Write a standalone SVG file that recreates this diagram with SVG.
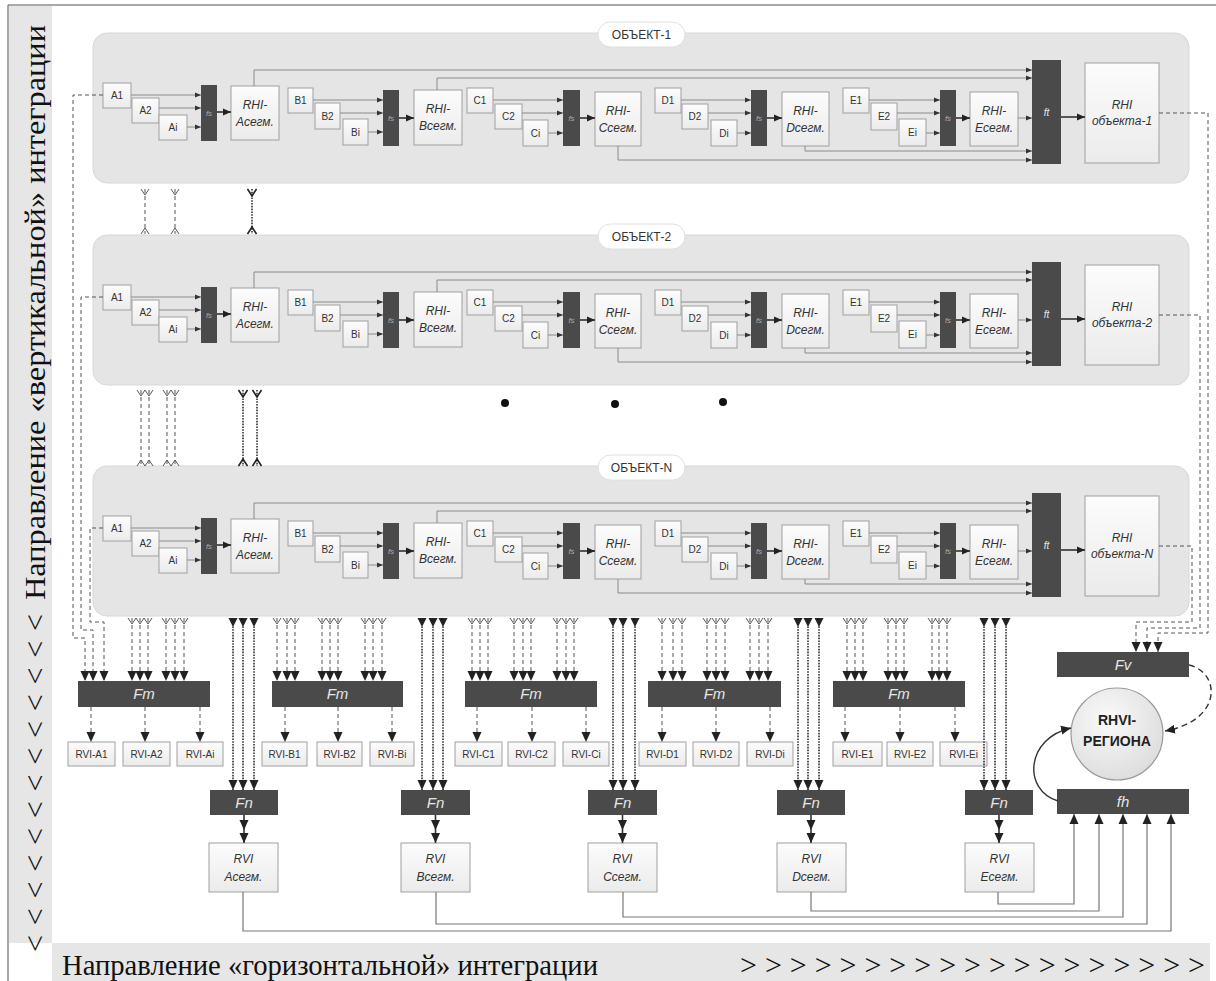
<svg xmlns="http://www.w3.org/2000/svg" width="1216" height="981" viewBox="0 0 1216 981">
<style>
.frame{fill:none;stroke:#555;stroke-width:1}
.strip{fill:#e6e6e6}
.panel{fill:#e5e5e5;stroke:#d8d8d8;stroke-width:1}
.pill{fill:#fff;stroke:#e0e0e0;stroke-width:1}
.box{fill:url(#gb);stroke:#a0a0a0;stroke-width:1}
.dk{fill:#4a4a4a}
.t{font-family:"Liberation Sans",Arial,sans-serif;text-anchor:middle;fill:#333}
.s10{font-size:10px}
.s12{font-size:12px}
.i12{font-size:12px;font-style:italic}
.fsT{font-size:8px;font-style:italic;fill:#aaa}
.wT{font-size:15px;font-style:italic;fill:#e6e6e6}
.bT{font-size:14px;font-weight:bold;fill:#222}
.ln{fill:none;stroke:#8a8a8a;stroke-width:1}
.ln2{fill:none;stroke:#333;stroke-width:1.6}
.lnb{fill:none;stroke:#777;stroke-width:1.2}
.ds{fill:none;stroke:#555;stroke-width:1;stroke-dasharray:4 3}
.dt{fill:none;stroke:#333;stroke-width:1.6;stroke-dasharray:1.6 1.2}
.serif{font-family:"Liberation Serif","Times New Roman",serif;fill:#111;font-size:30px}
</style>
<defs>
<linearGradient id="gb" x1="0" y1="0" x2="0" y2="1"><stop offset="0" stop-color="#fcfcfc"/><stop offset="1" stop-color="#ebebeb"/></linearGradient>
<radialGradient id="gc" cx="0.4" cy="0.35" r="0.7"><stop offset="0" stop-color="#fafafa"/><stop offset="1" stop-color="#dcdcdc"/></radialGradient>
<marker id="ahS" markerUnits="userSpaceOnUse" viewBox="-6 -3 6 6" refX="0" refY="0" markerWidth="6" markerHeight="6" orient="auto"><path d="M-6,-2.5L0,0L-6,2.5z" fill="#333"/></marker>
<marker id="ahL" markerUnits="userSpaceOnUse" viewBox="-8 -4 8 8" refX="0" refY="0" markerWidth="8" markerHeight="8" orient="auto"><path d="M-8,-3.5L0,0L-8,3.5z" fill="#222"/></marker>
<marker id="ahM" markerUnits="userSpaceOnUse" viewBox="-10 -5 10 10" refX="0" refY="0" markerWidth="10" markerHeight="10" orient="auto"><path d="M-10,-4.5L0,0L-10,4.5z" fill="#222"/></marker>
<marker id="ahSt" markerUnits="userSpaceOnUse" viewBox="0 -5 10 10" refX="0" refY="0" markerWidth="10" markerHeight="10" orient="auto"><path d="M0,-4.5L9,0L0,4.5z" fill="#222"/></marker>
<marker id="forkS" markerUnits="userSpaceOnUse" viewBox="-1 -5 9 10" refX="0" refY="0" markerWidth="9" markerHeight="10" orient="auto"><path d="M0,-4L6,0L0,4" fill="none" stroke="#555" stroke-width="1"/></marker>
<marker id="forkE" markerUnits="userSpaceOnUse" viewBox="-8 -5 9 10" refX="0" refY="0" markerWidth="9" markerHeight="10" orient="auto"><path d="M0,-4L-6,0L0,4" fill="none" stroke="#555" stroke-width="1"/></marker>
<marker id="forkSD" markerUnits="userSpaceOnUse" viewBox="-1 -5 9 10" refX="0" refY="0" markerWidth="9" markerHeight="10" orient="auto"><path d="M0,-4.5L7,0L0,4.5" fill="none" stroke="#222" stroke-width="1.6"/></marker>
<marker id="forkED" markerUnits="userSpaceOnUse" viewBox="-8 -5 9 10" refX="0" refY="0" markerWidth="9" markerHeight="10" orient="auto"><path d="M0,-4.5L-7,0L0,4.5" fill="none" stroke="#222" stroke-width="1.6"/></marker>
</defs>

<g id="background">
<rect class="strip" x="9" y="6" width="43" height="937"/>
<rect class="strip" x="52" y="943" width="1158" height="38"/>
<path class="frame" d="M8,981V5H1216"/>
<text class="serif" transform="translate(45,600) rotate(-90)" textLength="575" lengthAdjust="spacingAndGlyphs">Направление «вертикальной» интеграции</text>
<text class="serif" transform="translate(45,952) rotate(-90)" textLength="338" lengthAdjust="spacing">&lt;&lt;&lt;&lt;&lt;&lt;&lt;&lt;&lt;&lt;&lt;&lt;&lt;</text>
<text class="serif" x="62" y="975" textLength="536" lengthAdjust="spacingAndGlyphs">Направление «горизонтальной» интеграции</text>
<text class="serif" x="740" y="975" textLength="465" lengthAdjust="spacing">&gt;&gt;&gt;&gt;&gt;&gt;&gt;&gt;&gt;&gt;&gt;&gt;&gt;&gt;&gt;&gt;&gt;&gt;&gt;</text>
</g>

<g id="object-1">
<g id="o1-panel"><rect class="panel" x="93" y="33" width="1096" height="150" rx="14"/><rect class="pill" x="598" y="22" width="87" height="25" rx="12.5"/><text class="t s12" x="641.5" y="39">ОБЪЕКТ-1</text></g>
<g id="o1-A1"><rect class="box" x="103" y="83" width="28" height="25"/><text class="t s10" x="117" y="99">A1</text></g>
<g id="o1-A2"><rect class="box" x="132" y="98" width="27" height="25"/><text class="t s10" x="145.5" y="114">A2</text></g>
<g id="o1-Ai"><rect class="box" x="159" y="115" width="28" height="25"/><text class="t s10" x="173" y="131">Ai</text></g>
<g id="o1-fsA"><rect class="dk" x="201" y="85" width="16" height="56"/><text class="t fsT" x="209" y="116">fs</text></g>
<g id="o1-RHIA"><rect class="box" x="231" y="86" width="48" height="54"/><text class="t i12" x="255" y="109">RHI-</text><text class="t i12" x="255" y="126">Асегм.</text></g>
<g id="o1-B1"><rect class="box" x="288" y="88" width="25" height="25"/><text class="t s10" x="300.5" y="104">B1</text></g>
<g id="o1-B2"><rect class="box" x="315" y="103" width="25" height="26"/><text class="t s10" x="327.5" y="120">B2</text></g>
<g id="o1-Bi"><rect class="box" x="343" y="119" width="25" height="26"/><text class="t s10" x="355.5" y="136">Bi</text></g>
<g id="o1-fsB"><rect class="dk" x="383" y="90" width="16" height="56"/><text class="t fsT" x="391" y="121">fs</text></g>
<g id="o1-RHIB"><rect class="box" x="414" y="90" width="48" height="55"/><text class="t i12" x="438" y="113">RHI-</text><text class="t i12" x="438" y="130">Всегм.</text></g>
<g id="o1-C1"><rect class="box" x="467" y="88" width="26" height="25"/><text class="t s10" x="480" y="104">C1</text></g>
<g id="o1-C2"><rect class="box" x="495" y="104" width="27" height="25"/><text class="t s10" x="508.5" y="120">C2</text></g>
<g id="o1-Ci"><rect class="box" x="523" y="120" width="25" height="26"/><text class="t s10" x="535.5" y="137">Ci</text></g>
<g id="o1-fsC"><rect class="dk" x="563" y="90" width="17" height="56"/><text class="t fsT" x="571.5" y="121">fs</text></g>
<g id="o1-RHIC"><rect class="box" x="595" y="92" width="46" height="54"/><text class="t i12" x="618" y="115">RHI-</text><text class="t i12" x="618" y="132">Ссегм.</text></g>
<g id="o1-D1"><rect class="box" x="655" y="88" width="26" height="25"/><text class="t s10" x="668" y="104">D1</text></g>
<g id="o1-D2"><rect class="box" x="682" y="104" width="26" height="25"/><text class="t s10" x="695" y="120">D2</text></g>
<g id="o1-Di"><rect class="box" x="711" y="120" width="26" height="26"/><text class="t s10" x="724" y="137">Di</text></g>
<g id="o1-fsD"><rect class="dk" x="751" y="90" width="16" height="56"/><text class="t fsT" x="759" y="121">fs</text></g>
<g id="o1-RHID"><rect class="box" x="782" y="92" width="47" height="54"/><text class="t i12" x="805.5" y="115">RHI-</text><text class="t i12" x="805.5" y="132">Dсегм.</text></g>
<g id="o1-E1"><rect class="box" x="843" y="88" width="26" height="25"/><text class="t s10" x="856" y="104">E1</text></g>
<g id="o1-E2"><rect class="box" x="871" y="103" width="26" height="27"/><text class="t s10" x="884" y="120">E2</text></g>
<g id="o1-Ei"><rect class="box" x="899" y="119" width="27" height="27"/><text class="t s10" x="912.5" y="136">Ei</text></g>
<g id="o1-fsE"><rect class="dk" x="940" y="90" width="16" height="56"/><text class="t fsT" x="948" y="121">fs</text></g>
<g id="o1-RHIE"><rect class="box" x="970" y="92" width="48" height="54"/><text class="t i12" x="994" y="115">RHI-</text><text class="t i12" x="994" y="132">Eсегм.</text></g>
<g id="o1-ft"><rect class="dk" x="1032" y="60" width="29" height="104"/><text class="t s10" style="font-style:italic;fill:#e6e6e6" x="1046.5" y="116">ft</text></g>
<g id="o1-RHIobj"><rect class="box" x="1085" y="63" width="74" height="100"/><text class="t i12" x="1122" y="109">RHI</text><text class="t i12" x="1122" y="125">объекта-1</text></g>
</g>

<g id="object-2" transform="translate(0,202)">
<g id="o2-panel"><rect class="panel" x="93" y="33" width="1096" height="150" rx="14"/><rect class="pill" x="598" y="22" width="87" height="25" rx="12.5"/><text class="t s12" x="641.5" y="39">ОБЪЕКТ-2</text></g>
<g id="o2-A1"><rect class="box" x="103" y="83" width="28" height="25"/><text class="t s10" x="117" y="99">A1</text></g>
<g id="o2-A2"><rect class="box" x="132" y="98" width="27" height="25"/><text class="t s10" x="145.5" y="114">A2</text></g>
<g id="o2-Ai"><rect class="box" x="159" y="115" width="28" height="25"/><text class="t s10" x="173" y="131">Ai</text></g>
<g id="o2-fsA"><rect class="dk" x="201" y="85" width="16" height="56"/><text class="t fsT" x="209" y="116">fs</text></g>
<g id="o2-RHIA"><rect class="box" x="231" y="86" width="48" height="54"/><text class="t i12" x="255" y="109">RHI-</text><text class="t i12" x="255" y="126">Асегм.</text></g>
<g id="o2-B1"><rect class="box" x="288" y="88" width="25" height="25"/><text class="t s10" x="300.5" y="104">B1</text></g>
<g id="o2-B2"><rect class="box" x="315" y="103" width="25" height="26"/><text class="t s10" x="327.5" y="120">B2</text></g>
<g id="o2-Bi"><rect class="box" x="343" y="119" width="25" height="26"/><text class="t s10" x="355.5" y="136">Bi</text></g>
<g id="o2-fsB"><rect class="dk" x="383" y="90" width="16" height="56"/><text class="t fsT" x="391" y="121">fs</text></g>
<g id="o2-RHIB"><rect class="box" x="414" y="90" width="48" height="55"/><text class="t i12" x="438" y="113">RHI-</text><text class="t i12" x="438" y="130">Всегм.</text></g>
<g id="o2-C1"><rect class="box" x="467" y="88" width="26" height="25"/><text class="t s10" x="480" y="104">C1</text></g>
<g id="o2-C2"><rect class="box" x="495" y="104" width="27" height="25"/><text class="t s10" x="508.5" y="120">C2</text></g>
<g id="o2-Ci"><rect class="box" x="523" y="120" width="25" height="26"/><text class="t s10" x="535.5" y="137">Ci</text></g>
<g id="o2-fsC"><rect class="dk" x="563" y="90" width="17" height="56"/><text class="t fsT" x="571.5" y="121">fs</text></g>
<g id="o2-RHIC"><rect class="box" x="595" y="92" width="46" height="54"/><text class="t i12" x="618" y="115">RHI-</text><text class="t i12" x="618" y="132">Ссегм.</text></g>
<g id="o2-D1"><rect class="box" x="655" y="88" width="26" height="25"/><text class="t s10" x="668" y="104">D1</text></g>
<g id="o2-D2"><rect class="box" x="682" y="104" width="26" height="25"/><text class="t s10" x="695" y="120">D2</text></g>
<g id="o2-Di"><rect class="box" x="711" y="120" width="26" height="26"/><text class="t s10" x="724" y="137">Di</text></g>
<g id="o2-fsD"><rect class="dk" x="751" y="90" width="16" height="56"/><text class="t fsT" x="759" y="121">fs</text></g>
<g id="o2-RHID"><rect class="box" x="782" y="92" width="47" height="54"/><text class="t i12" x="805.5" y="115">RHI-</text><text class="t i12" x="805.5" y="132">Dсегм.</text></g>
<g id="o2-E1"><rect class="box" x="843" y="88" width="26" height="25"/><text class="t s10" x="856" y="104">E1</text></g>
<g id="o2-E2"><rect class="box" x="871" y="103" width="26" height="27"/><text class="t s10" x="884" y="120">E2</text></g>
<g id="o2-Ei"><rect class="box" x="899" y="119" width="27" height="27"/><text class="t s10" x="912.5" y="136">Ei</text></g>
<g id="o2-fsE"><rect class="dk" x="940" y="90" width="16" height="56"/><text class="t fsT" x="948" y="121">fs</text></g>
<g id="o2-RHIE"><rect class="box" x="970" y="92" width="48" height="54"/><text class="t i12" x="994" y="115">RHI-</text><text class="t i12" x="994" y="132">Eсегм.</text></g>
<g id="o2-ft"><rect class="dk" x="1032" y="60" width="29" height="104"/><text class="t s10" style="font-style:italic;fill:#e6e6e6" x="1046.5" y="116">ft</text></g>
<g id="o2-RHIobj"><rect class="box" x="1085" y="63" width="74" height="100"/><text class="t i12" x="1122" y="109">RHI</text><text class="t i12" x="1122" y="125">объекта-2</text></g>
</g>

<g id="object-N" transform="translate(0,433)">
<g id="oN-panel"><rect class="panel" x="93" y="33" width="1096" height="150" rx="14"/><rect class="pill" x="598" y="22" width="87" height="25" rx="12.5"/><text class="t s12" x="641.5" y="39">ОБЪЕКТ-N</text></g>
<g id="oN-A1"><rect class="box" x="103" y="83" width="28" height="25"/><text class="t s10" x="117" y="99">A1</text></g>
<g id="oN-A2"><rect class="box" x="132" y="98" width="27" height="25"/><text class="t s10" x="145.5" y="114">A2</text></g>
<g id="oN-Ai"><rect class="box" x="159" y="115" width="28" height="25"/><text class="t s10" x="173" y="131">Ai</text></g>
<g id="oN-fsA"><rect class="dk" x="201" y="85" width="16" height="56"/><text class="t fsT" x="209" y="116">fs</text></g>
<g id="oN-RHIA"><rect class="box" x="231" y="86" width="48" height="54"/><text class="t i12" x="255" y="109">RHI-</text><text class="t i12" x="255" y="126">Асегм.</text></g>
<g id="oN-B1"><rect class="box" x="288" y="88" width="25" height="25"/><text class="t s10" x="300.5" y="104">B1</text></g>
<g id="oN-B2"><rect class="box" x="315" y="103" width="25" height="26"/><text class="t s10" x="327.5" y="120">B2</text></g>
<g id="oN-Bi"><rect class="box" x="343" y="119" width="25" height="26"/><text class="t s10" x="355.5" y="136">Bi</text></g>
<g id="oN-fsB"><rect class="dk" x="383" y="90" width="16" height="56"/><text class="t fsT" x="391" y="121">fs</text></g>
<g id="oN-RHIB"><rect class="box" x="414" y="90" width="48" height="55"/><text class="t i12" x="438" y="113">RHI-</text><text class="t i12" x="438" y="130">Всегм.</text></g>
<g id="oN-C1"><rect class="box" x="467" y="88" width="26" height="25"/><text class="t s10" x="480" y="104">C1</text></g>
<g id="oN-C2"><rect class="box" x="495" y="104" width="27" height="25"/><text class="t s10" x="508.5" y="120">C2</text></g>
<g id="oN-Ci"><rect class="box" x="523" y="120" width="25" height="26"/><text class="t s10" x="535.5" y="137">Ci</text></g>
<g id="oN-fsC"><rect class="dk" x="563" y="90" width="17" height="56"/><text class="t fsT" x="571.5" y="121">fs</text></g>
<g id="oN-RHIC"><rect class="box" x="595" y="92" width="46" height="54"/><text class="t i12" x="618" y="115">RHI-</text><text class="t i12" x="618" y="132">Ссегм.</text></g>
<g id="oN-D1"><rect class="box" x="655" y="88" width="26" height="25"/><text class="t s10" x="668" y="104">D1</text></g>
<g id="oN-D2"><rect class="box" x="682" y="104" width="26" height="25"/><text class="t s10" x="695" y="120">D2</text></g>
<g id="oN-Di"><rect class="box" x="711" y="120" width="26" height="26"/><text class="t s10" x="724" y="137">Di</text></g>
<g id="oN-fsD"><rect class="dk" x="751" y="90" width="16" height="56"/><text class="t fsT" x="759" y="121">fs</text></g>
<g id="oN-RHID"><rect class="box" x="782" y="92" width="47" height="54"/><text class="t i12" x="805.5" y="115">RHI-</text><text class="t i12" x="805.5" y="132">Dсегм.</text></g>
<g id="oN-E1"><rect class="box" x="843" y="88" width="26" height="25"/><text class="t s10" x="856" y="104">E1</text></g>
<g id="oN-E2"><rect class="box" x="871" y="103" width="26" height="27"/><text class="t s10" x="884" y="120">E2</text></g>
<g id="oN-Ei"><rect class="box" x="899" y="119" width="27" height="27"/><text class="t s10" x="912.5" y="136">Ei</text></g>
<g id="oN-fsE"><rect class="dk" x="940" y="90" width="16" height="56"/><text class="t fsT" x="948" y="121">fs</text></g>
<g id="oN-RHIE"><rect class="box" x="970" y="92" width="48" height="54"/><text class="t i12" x="994" y="115">RHI-</text><text class="t i12" x="994" y="132">Eсегм.</text></g>
<g id="oN-ft"><rect class="dk" x="1032" y="60" width="29" height="104"/><text class="t s10" style="font-style:italic;fill:#e6e6e6" x="1046.5" y="116">ft</text></g>
<g id="oN-RHIobj"><rect class="box" x="1085" y="63" width="74" height="100"/><text class="t i12" x="1122" y="109">RHI</text><text class="t i12" x="1122" y="125">объекта-N</text></g>
</g>

<g id="dots" fill="#111"><circle cx="505" cy="403" r="4"/><circle cx="615" cy="404" r="4"/><circle cx="723" cy="402" r="4"/></g>

<g id="Fm-nodes">
<g id="FmA"><rect class="dk" x="78" y="681" width="132" height="26"/><text class="t wT" x="144" y="699">Fm</text></g>
<g id="FmB"><rect class="dk" x="272" y="681" width="131" height="26"/><text class="t wT" x="337.5" y="699">Fm</text></g>
<g id="FmC"><rect class="dk" x="465" y="681" width="132" height="26"/><text class="t wT" x="531" y="699">Fm</text></g>
<g id="FmD"><rect class="dk" x="648" y="681" width="133" height="26"/><text class="t wT" x="714.5" y="699">Fm</text></g>
<g id="FmE"><rect class="dk" x="833" y="681" width="132" height="26"/><text class="t wT" x="899" y="699">Fm</text></g>
</g>

<g id="RVI-nodes">
<g id="RVI-A1"><rect class="box" x="68" y="742" width="47" height="24"/><text class="t s10" x="91.5" y="758">RVI-A1</text></g>
<g id="RVI-A2"><rect class="box" x="123" y="742" width="47" height="24"/><text class="t s10" x="146.5" y="758">RVI-A2</text></g>
<g id="RVI-Ai"><rect class="box" x="177" y="742" width="46" height="24"/><text class="t s10" x="200" y="758">RVI-Ai</text></g>
<g id="RVI-B1"><rect class="box" x="262" y="742" width="45" height="24"/><text class="t s10" x="284.5" y="758">RVI-B1</text></g>
<g id="RVI-B2"><rect class="box" x="317" y="742" width="45" height="24"/><text class="t s10" x="339.5" y="758">RVI-B2</text></g>
<g id="RVI-Bi"><rect class="box" x="370" y="742" width="44" height="24"/><text class="t s10" x="392" y="758">RVI-Bi</text></g>
<g id="RVI-C1"><rect class="box" x="455" y="742" width="47" height="24"/><text class="t s10" x="478.5" y="758">RVI-C1</text></g>
<g id="RVI-C2"><rect class="box" x="508" y="742" width="47" height="24"/><text class="t s10" x="531.5" y="758">RVI-C2</text></g>
<g id="RVI-Ci"><rect class="box" x="563" y="742" width="46" height="24"/><text class="t s10" x="586" y="758">RVI-Ci</text></g>
<g id="RVI-D1"><rect class="box" x="639" y="742" width="47" height="24"/><text class="t s10" x="662.5" y="758">RVI-D1</text></g>
<g id="RVI-D2"><rect class="box" x="693" y="742" width="46" height="24"/><text class="t s10" x="716" y="758">RVI-D2</text></g>
<g id="RVI-Di"><rect class="box" x="747" y="742" width="46" height="24"/><text class="t s10" x="770" y="758">RVI-Di</text></g>
<g id="RVI-E1"><rect class="box" x="833" y="742" width="49" height="24"/><text class="t s10" x="857.5" y="758">RVI-E1</text></g>
<g id="RVI-E2"><rect class="box" x="887" y="742" width="46" height="24"/><text class="t s10" x="910" y="758">RVI-E2</text></g>
<g id="RVI-Ei"><rect class="box" x="940" y="742" width="47" height="24"/><text class="t s10" x="963.5" y="758">RVI-Ei</text></g>
</g>

<g id="Fn-nodes">
<g id="FnA"><rect class="dk" x="210" y="790" width="68" height="25"/><text class="t wT" x="244" y="808">Fn</text></g>
<g id="FnB"><rect class="dk" x="401" y="790" width="69" height="25"/><text class="t wT" x="435.5" y="808">Fn</text></g>
<g id="FnC"><rect class="dk" x="588" y="790" width="69" height="25"/><text class="t wT" x="622.5" y="808">Fn</text></g>
<g id="FnD"><rect class="dk" x="777" y="790" width="68" height="25"/><text class="t wT" x="811" y="808">Fn</text></g>
<g id="FnE"><rect class="dk" x="965" y="790" width="68" height="25"/><text class="t wT" x="999" y="808">Fn</text></g>
</g>

<g id="RVIseg-nodes">
<g id="RVI-Aseg"><rect class="box" x="209" y="843" width="69" height="49"/><text class="t i12" x="243.5" y="863">RVI</text><text class="t i12" x="243.5" y="881">Асегм.</text></g>
<g id="RVI-Bseg"><rect class="box" x="401" y="843" width="69" height="49"/><text class="t i12" x="435.5" y="863">RVI</text><text class="t i12" x="435.5" y="881">Всегм.</text></g>
<g id="RVI-Cseg"><rect class="box" x="588" y="843" width="69" height="49"/><text class="t i12" x="622.5" y="863">RVI</text><text class="t i12" x="622.5" y="881">Ссегм.</text></g>
<g id="RVI-Dseg"><rect class="box" x="777" y="843" width="69" height="49"/><text class="t i12" x="811.5" y="863">RVI</text><text class="t i12" x="811.5" y="881">Dсегм.</text></g>
<g id="RVI-Eseg"><rect class="box" x="965" y="843" width="69" height="49"/><text class="t i12" x="999.5" y="863">RVI</text><text class="t i12" x="999.5" y="881">Eсегм.</text></g>
</g>

<g id="Fv"><rect class="dk" x="1057" y="652" width="132" height="25"/><text class="t wT" x="1123" y="670">Fv</text></g>
<g id="fh"><rect class="dk" x="1057" y="789" width="132" height="25"/><text class="t wT" x="1123" y="807">fh</text></g>
<g id="RHVI-region"><circle cx="1117" cy="734" r="46" fill="url(#gc)" stroke="#9a9a9a" stroke-width="1.2"/><text class="t bT" x="1117" y="725">RHVI-</text><text class="t bT" x="1117" y="746">РЕГИОНА</text></g>

<g id="connectors">
<g id="inner-1">
<path class="ln" marker-end="url(#ahS)" d="M131,95H201"/><path class="ln" marker-end="url(#ahS)" d="M159,108H201"/><path class="ln" marker-end="url(#ahS)" d="M187,127H201"/>
<path class="ln" marker-end="url(#ahS)" d="M313,100H383"/><path class="ln" marker-end="url(#ahS)" d="M340,113H383"/><path class="ln" marker-end="url(#ahS)" d="M368,132H383"/>
<path class="ln" marker-end="url(#ahS)" d="M493,100H563"/><path class="ln" marker-end="url(#ahS)" d="M522,113H563"/><path class="ln" marker-end="url(#ahS)" d="M548,133H563"/>
<path class="ln" marker-end="url(#ahS)" d="M681,100H751"/><path class="ln" marker-end="url(#ahS)" d="M708,113H751"/><path class="ln" marker-end="url(#ahS)" d="M737,133H751"/>
<path class="ln" marker-end="url(#ahS)" d="M869,100H940"/><path class="ln" marker-end="url(#ahS)" d="M897,113H940"/><path class="ln" marker-end="url(#ahS)" d="M926,133H940"/>
<path class="ln" marker-end="url(#ahS)" d="M254,86V70H1032"/>
<path class="ln" marker-end="url(#ahS)" d="M437,90V78H1032"/>
<path class="ln" marker-end="url(#ahS)" d="M618,146V160H1032"/>
<path class="ln" marker-end="url(#ahS)" d="M805,146V151H1032"/>
<path class="ln" marker-end="url(#ahS)" d="M1018,118H1032"/>
<path class="ln2" marker-end="url(#ahL)" d="M217,112H231"/>
<path class="ln2" marker-end="url(#ahL)" d="M399,118H414"/>
<path class="ln2" marker-end="url(#ahL)" d="M580,118H595"/>
<path class="ln2" marker-end="url(#ahL)" d="M767,118H782"/>
<path class="ln2" marker-end="url(#ahL)" d="M956,118H970"/>
<path class="ln2" marker-end="url(#ahL)" d="M1061,117H1085"/>
</g>
<g id="inner-2" transform="translate(0,202)">
<path class="ln" marker-end="url(#ahS)" d="M131,95H201"/><path class="ln" marker-end="url(#ahS)" d="M159,108H201"/><path class="ln" marker-end="url(#ahS)" d="M187,127H201"/>
<path class="ln" marker-end="url(#ahS)" d="M313,100H383"/><path class="ln" marker-end="url(#ahS)" d="M340,113H383"/><path class="ln" marker-end="url(#ahS)" d="M368,132H383"/>
<path class="ln" marker-end="url(#ahS)" d="M493,100H563"/><path class="ln" marker-end="url(#ahS)" d="M522,113H563"/><path class="ln" marker-end="url(#ahS)" d="M548,133H563"/>
<path class="ln" marker-end="url(#ahS)" d="M681,100H751"/><path class="ln" marker-end="url(#ahS)" d="M708,113H751"/><path class="ln" marker-end="url(#ahS)" d="M737,133H751"/>
<path class="ln" marker-end="url(#ahS)" d="M869,100H940"/><path class="ln" marker-end="url(#ahS)" d="M897,113H940"/><path class="ln" marker-end="url(#ahS)" d="M926,133H940"/>
<path class="ln" marker-end="url(#ahS)" d="M254,86V70H1032"/>
<path class="ln" marker-end="url(#ahS)" d="M437,90V78H1032"/>
<path class="ln" marker-end="url(#ahS)" d="M618,146V160H1032"/>
<path class="ln" marker-end="url(#ahS)" d="M805,146V151H1032"/>
<path class="ln" marker-end="url(#ahS)" d="M1018,118H1032"/>
<path class="ln2" marker-end="url(#ahL)" d="M217,112H231"/>
<path class="ln2" marker-end="url(#ahL)" d="M399,118H414"/>
<path class="ln2" marker-end="url(#ahL)" d="M580,118H595"/>
<path class="ln2" marker-end="url(#ahL)" d="M767,118H782"/>
<path class="ln2" marker-end="url(#ahL)" d="M956,118H970"/>
<path class="ln2" marker-end="url(#ahL)" d="M1061,117H1085"/>
</g>
<g id="inner-N" transform="translate(0,433)">
<path class="ln" marker-end="url(#ahS)" d="M131,95H201"/><path class="ln" marker-end="url(#ahS)" d="M159,108H201"/><path class="ln" marker-end="url(#ahS)" d="M187,127H201"/>
<path class="ln" marker-end="url(#ahS)" d="M313,100H383"/><path class="ln" marker-end="url(#ahS)" d="M340,113H383"/><path class="ln" marker-end="url(#ahS)" d="M368,132H383"/>
<path class="ln" marker-end="url(#ahS)" d="M493,100H563"/><path class="ln" marker-end="url(#ahS)" d="M522,113H563"/><path class="ln" marker-end="url(#ahS)" d="M548,133H563"/>
<path class="ln" marker-end="url(#ahS)" d="M681,100H751"/><path class="ln" marker-end="url(#ahS)" d="M708,113H751"/><path class="ln" marker-end="url(#ahS)" d="M737,133H751"/>
<path class="ln" marker-end="url(#ahS)" d="M869,100H940"/><path class="ln" marker-end="url(#ahS)" d="M897,113H940"/><path class="ln" marker-end="url(#ahS)" d="M926,133H940"/>
<path class="ln" marker-end="url(#ahS)" d="M254,86V70H1032"/>
<path class="ln" marker-end="url(#ahS)" d="M437,90V78H1032"/>
<path class="ln" marker-end="url(#ahS)" d="M618,146V160H1032"/>
<path class="ln" marker-end="url(#ahS)" d="M805,146V151H1032"/>
<path class="ln" marker-end="url(#ahS)" d="M1018,118H1032"/>
<path class="ln2" marker-end="url(#ahL)" d="M217,112H231"/>
<path class="ln2" marker-end="url(#ahL)" d="M399,118H414"/>
<path class="ln2" marker-end="url(#ahL)" d="M580,118H595"/>
<path class="ln2" marker-end="url(#ahL)" d="M767,118H782"/>
<path class="ln2" marker-end="url(#ahL)" d="M956,118H970"/>
<path class="ln2" marker-end="url(#ahL)" d="M1061,117H1085"/>
</g>

<g id="inter-object">
<path class="ds" marker-start="url(#forkS)" marker-end="url(#forkE)" d="M145,189V234"/>
<path class="ds" marker-start="url(#forkS)" marker-end="url(#forkE)" d="M175,189V234"/>
<path class="dt" marker-start="url(#forkSD)" marker-end="url(#forkED)" d="M252,189V234"/>
<path class="ds" marker-start="url(#forkS)" marker-end="url(#forkE)" d="M141,390V466"/>
<path class="ds" marker-start="url(#forkS)" marker-end="url(#forkE)" d="M149,390V466"/>
<path class="ds" marker-start="url(#forkS)" marker-end="url(#forkE)" d="M167,390V466"/>
<path class="ds" marker-start="url(#forkS)" marker-end="url(#forkE)" d="M175,390V466"/>
<path class="dt" marker-start="url(#forkSD)" marker-end="url(#forkED)" d="M243,390V466"/>
<path class="dt" marker-start="url(#forkSD)" marker-end="url(#forkED)" d="M257,390V466"/>
</g>

<g id="vertical-A1">
<path class="ds" marker-end="url(#ahM)" d="M103,95H73V638H85V681"/>
<path class="ds" marker-end="url(#ahM)" d="M103,297H81V630H93V681"/>
<path class="ds" marker-end="url(#ahM)" d="M103,528H90V622H104V681"/>
</g>

<g id="to-Fv">
<path class="ds" marker-end="url(#ahM)" d="M1159,113H1208V633H1158V652"/>
<path class="ds" marker-end="url(#ahM)" d="M1159,315H1200V628H1147V652"/>
<path class="ds" marker-end="url(#ahM)" d="M1159,546H1192V622H1136V652"/>
</g>

<g id="to-Fm">
<path class="ds" marker-start="url(#forkS)" marker-end="url(#ahM)" d="M132,618V681"/>
<path class="ds" marker-start="url(#forkS)" marker-end="url(#ahM)" d="M140,618V681"/>
<path class="ds" marker-start="url(#forkS)" marker-end="url(#ahM)" d="M148,618V681"/>
<path class="ds" marker-start="url(#forkS)" marker-end="url(#ahM)" d="M166,618V681"/>
<path class="ds" marker-start="url(#forkS)" marker-end="url(#ahM)" d="M175,618V681"/>
<path class="ds" marker-start="url(#forkS)" marker-end="url(#ahM)" d="M184,618V681"/>
<path class="ds" marker-start="url(#forkS)" marker-end="url(#ahM)" d="M277,618V681"/>
<path class="ds" marker-start="url(#forkS)" marker-end="url(#ahM)" d="M287,618V681"/>
<path class="ds" marker-start="url(#forkS)" marker-end="url(#ahM)" d="M295,618V681"/>
<path class="ds" marker-start="url(#forkS)" marker-end="url(#ahM)" d="M322,618V681"/>
<path class="ds" marker-start="url(#forkS)" marker-end="url(#ahM)" d="M330,618V681"/>
<path class="ds" marker-start="url(#forkS)" marker-end="url(#ahM)" d="M338,618V681"/>
<path class="ds" marker-start="url(#forkS)" marker-end="url(#ahM)" d="M365,618V681"/>
<path class="ds" marker-start="url(#forkS)" marker-end="url(#ahM)" d="M373,618V681"/>
<path class="ds" marker-start="url(#forkS)" marker-end="url(#ahM)" d="M382,618V681"/>
<path class="ds" marker-start="url(#forkS)" marker-end="url(#ahM)" d="M472,618V681"/>
<path class="ds" marker-start="url(#forkS)" marker-end="url(#ahM)" d="M480,618V681"/>
<path class="ds" marker-start="url(#forkS)" marker-end="url(#ahM)" d="M488,618V681"/>
<path class="ds" marker-start="url(#forkS)" marker-end="url(#ahM)" d="M514,618V681"/>
<path class="ds" marker-start="url(#forkS)" marker-end="url(#ahM)" d="M523,618V681"/>
<path class="ds" marker-start="url(#forkS)" marker-end="url(#ahM)" d="M531,618V681"/>
<path class="ds" marker-start="url(#forkS)" marker-end="url(#ahM)" d="M557,618V681"/>
<path class="ds" marker-start="url(#forkS)" marker-end="url(#ahM)" d="M566,618V681"/>
<path class="ds" marker-start="url(#forkS)" marker-end="url(#ahM)" d="M574,618V681"/>
<path class="ds" marker-start="url(#forkS)" marker-end="url(#ahM)" d="M662,618V681"/>
<path class="ds" marker-start="url(#forkS)" marker-end="url(#ahM)" d="M673,618V681"/>
<path class="ds" marker-start="url(#forkS)" marker-end="url(#ahM)" d="M682,618V681"/>
<path class="ds" marker-start="url(#forkS)" marker-end="url(#ahM)" d="M707,618V681"/>
<path class="ds" marker-start="url(#forkS)" marker-end="url(#ahM)" d="M716,618V681"/>
<path class="ds" marker-start="url(#forkS)" marker-end="url(#ahM)" d="M725,618V681"/>
<path class="ds" marker-start="url(#forkS)" marker-end="url(#ahM)" d="M750,618V681"/>
<path class="ds" marker-start="url(#forkS)" marker-end="url(#ahM)" d="M759,618V681"/>
<path class="ds" marker-start="url(#forkS)" marker-end="url(#ahM)" d="M768,618V681"/>
<path class="ds" marker-start="url(#forkS)" marker-end="url(#ahM)" d="M847,618V681"/>
<path class="ds" marker-start="url(#forkS)" marker-end="url(#ahM)" d="M855,618V681"/>
<path class="ds" marker-start="url(#forkS)" marker-end="url(#ahM)" d="M863,618V681"/>
<path class="ds" marker-start="url(#forkS)" marker-end="url(#ahM)" d="M888,618V681"/>
<path class="ds" marker-start="url(#forkS)" marker-end="url(#ahM)" d="M896,618V681"/>
<path class="ds" marker-start="url(#forkS)" marker-end="url(#ahM)" d="M904,618V681"/>
<path class="ds" marker-start="url(#forkS)" marker-end="url(#ahM)" d="M932,618V681"/>
<path class="ds" marker-start="url(#forkS)" marker-end="url(#ahM)" d="M939,618V681"/>
<path class="ds" marker-start="url(#forkS)" marker-end="url(#ahM)" d="M947,618V681"/>
</g>

<g id="Fm-to-RVI">
<path class="ds" marker-end="url(#ahM)" d="M91,707V742"/>
<path class="ds" marker-end="url(#ahM)" d="M145,707V742"/>
<path class="ds" marker-end="url(#ahM)" d="M200,707V742"/>
<path class="ds" marker-end="url(#ahM)" d="M285,707V742"/>
<path class="ds" marker-end="url(#ahM)" d="M338,707V742"/>
<path class="ds" marker-end="url(#ahM)" d="M392,707V742"/>
<path class="ds" marker-end="url(#ahM)" d="M477,707V742"/>
<path class="ds" marker-end="url(#ahM)" d="M532,707V742"/>
<path class="ds" marker-end="url(#ahM)" d="M586,707V742"/>
<path class="ds" marker-end="url(#ahM)" d="M662,707V742"/>
<path class="ds" marker-end="url(#ahM)" d="M716,707V742"/>
<path class="ds" marker-end="url(#ahM)" d="M770,707V742"/>
<path class="ds" marker-end="url(#ahM)" d="M845,707V742"/>
<path class="ds" marker-end="url(#ahM)" d="M900,707V742"/>
<path class="ds" marker-end="url(#ahM)" d="M955,707V742"/>
</g>

<g id="to-Fn">
<path class="dt" marker-start="url(#ahSt)" marker-end="url(#ahM)" d="M233,618V790"/>
<path class="dt" marker-start="url(#ahSt)" marker-end="url(#ahM)" d="M243,618V790"/>
<path class="dt" marker-start="url(#ahSt)" marker-end="url(#ahM)" d="M254,618V790"/>
<path class="dt" marker-start="url(#ahSt)" marker-end="url(#ahM)" d="M422,618V790"/>
<path class="dt" marker-start="url(#ahSt)" marker-end="url(#ahM)" d="M433,618V790"/>
<path class="dt" marker-start="url(#ahSt)" marker-end="url(#ahM)" d="M443,618V790"/>
<path class="dt" marker-start="url(#ahSt)" marker-end="url(#ahM)" d="M613,618V790"/>
<path class="dt" marker-start="url(#ahSt)" marker-end="url(#ahM)" d="M623,618V790"/>
<path class="dt" marker-start="url(#ahSt)" marker-end="url(#ahM)" d="M635,618V790"/>
<path class="dt" marker-start="url(#ahSt)" marker-end="url(#ahM)" d="M798,618V790"/>
<path class="dt" marker-start="url(#ahSt)" marker-end="url(#ahM)" d="M808,618V790"/>
<path class="dt" marker-start="url(#ahSt)" marker-end="url(#ahM)" d="M819,618V790"/>
<path class="dt" marker-start="url(#ahSt)" marker-end="url(#ahM)" d="M984,618V790"/>
<path class="dt" marker-start="url(#ahSt)" marker-end="url(#ahM)" d="M995,618V790"/>
<path class="dt" marker-start="url(#ahSt)" marker-end="url(#ahM)" d="M1006,618V790"/>
</g>

<g id="Fn-to-RVIseg">
<polyline class="ln2" marker-mid="url(#ahM)" marker-end="url(#ahM)" points="244,815 244,830 244,843"/>
<polyline class="ln2" marker-mid="url(#ahM)" marker-end="url(#ahM)" points="435.5,815 435.5,830 435.5,843"/>
<polyline class="ln2" marker-mid="url(#ahM)" marker-end="url(#ahM)" points="622.5,815 622.5,830 622.5,843"/>
<polyline class="ln2" marker-mid="url(#ahM)" marker-end="url(#ahM)" points="811,815 811,830 811,843"/>
<polyline class="ln2" marker-mid="url(#ahM)" marker-end="url(#ahM)" points="999,815 999,830 999,843"/>
</g>

<g id="to-fh">
<path class="lnb" marker-end="url(#ahM)" d="M243,892V931H1171V814"/>
<path class="lnb" marker-end="url(#ahM)" d="M436,892V924H1147V814"/>
<path class="lnb" marker-end="url(#ahM)" d="M623,892V917H1123V814"/>
<path class="lnb" marker-end="url(#ahM)" d="M811,892V911H1099V814"/>
<path class="lnb" marker-end="url(#ahM)" d="M998,892V904H1074V814"/>
</g>

<g id="region-loops">
<path fill="none" stroke="#333" stroke-width="1.4" stroke-dasharray="6 4" marker-end="url(#ahM)" d="M1189,665C1220,672 1224,720 1165,731"/>
<path fill="none" stroke="#333" stroke-width="1.4" marker-end="url(#ahM)" d="M1058,801C1022,790 1026,738 1071,728"/>
</g>
</g>
</svg>
